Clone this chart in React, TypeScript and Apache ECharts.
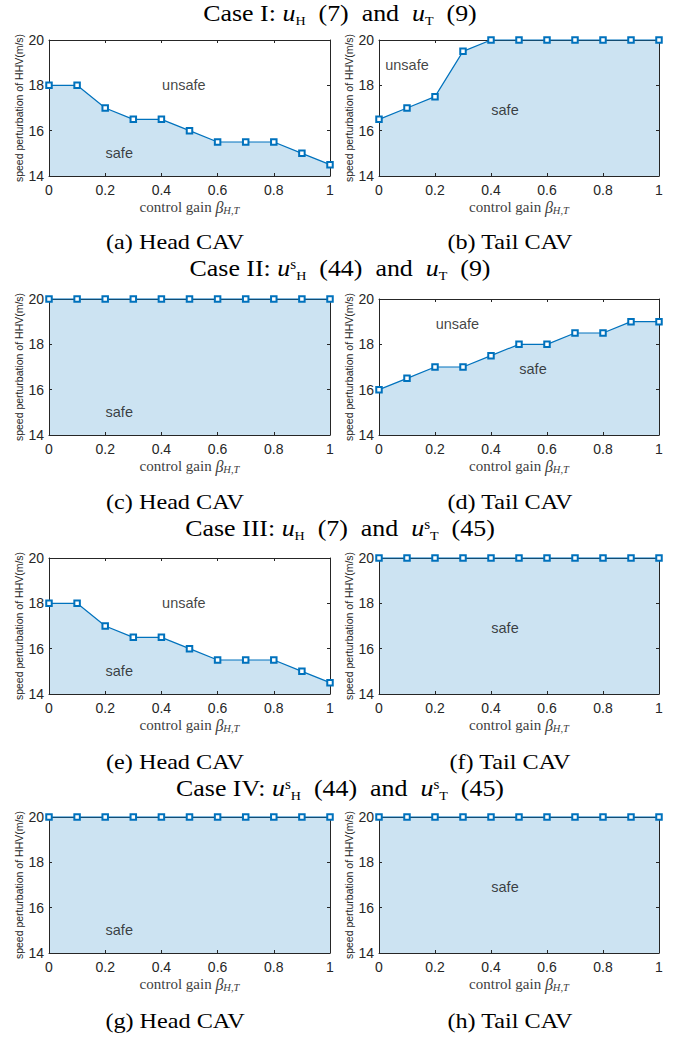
import React, { useEffect, useRef } from "react";
import * as echarts from "echarts";

const betas = [0, 0.1, 0.2, 0.3, 0.4, 0.5, 0.6, 0.7, 0.8, 0.9, 1];

const headCase1 = [18, 18, 17, 16.5, 16.5, 16, 15.5, 15.5, 15.5, 15, 14.5];
const tailCase1 = [16.5, 17, 17.5, 19.5, 20, 20, 20, 20, 20, 20, 20];
const headCase2 = [20, 20, 20, 20, 20, 20, 20, 20, 20, 20, 20];
const tailCase2 = [16, 16.5, 17, 17, 17.5, 18, 18, 18.5, 18.5, 19, 19];
const headCase3 = [18, 18, 17, 16.5, 16.5, 16, 15.5, 15.5, 15.5, 15, 14.5];
const tailCase3 = [20, 20, 20, 20, 20, 20, 20, 20, 20, 20, 20];
const headCase4 = [20, 20, 20, 20, 20, 20, 20, 20, 20, 20, 20];
const tailCase4 = [20, 20, 20, 20, 20, 20, 20, 20, 20, 20, 20];

const panelValues = [headCase1, tailCase1, headCase2, tailCase2, headCase3, tailCase3, headCase4, tailCase4];

const panelCaptions = [
  "(a) Head CAV", "(b) Tail CAV",
  "(c) Head CAV", "(d) Tail CAV",
  "(e) Head CAV", "(f) Tail CAV",
  "(g) Head CAV", "(h) Tail CAV",
];

const caseTitles = [
  "{n|Case I: }{i|u}{sub|H}{n|  (7)  and  }{i|u}{sub|T}{n|  (9)}",
  "{n|Case II: }{i|u}{sup|s}{sub|H}{n|  (44)  and  }{i|u}{sub|T}{n|  (9)}",
  "{n|Case III: }{i|u}{sub|H}{n|  (7)  and  }{i|u}{sup|s}{sub|T}{n|  (45)}",
  "{n|Case IV: }{i|u}{sup|s}{sub|H}{n|  (44)  and  }{i|u}{sup|s}{sub|T}{n|  (45)}",
];

// annotation labels per panel: [beta, speed, text]
const panelLabels: [number, number, string][][] = [
  [[0.48, 18, "unsafe"], [0.25, 15, "safe"]],
  [[0.1, 18.9, "unsafe"], [0.45, 16.9, "safe"]],
  [[0.25, 15, "safe"]],
  [[0.28, 18.9, "unsafe"], [0.55, 16.9, "safe"]],
  [[0.48, 18, "unsafe"], [0.25, 15, "safe"]],
  [[0.45, 16.9, "safe"]],
  [[0.25, 15, "safe"]],
  [[0.45, 16.9, "safe"]],
];

const yMin = 14;
const yMax = 20;
const yInterval = 2;
const xMin = 0;
const xMax = 1;
const xInterval = 0.2;

const yAxisName = "speed perturbation of HHV(m/s)";
const xAxisName = "{txt|control gain }{beta|β}{low|H,T}";

const SANS = "Liberation Sans";
const SERIF = "Liberation Serif";
const AX = "#262626";
const BLUE = "#0072BD";
const FILL = "#cce3f2";
const XNAME = "#404040";

const rowTops = [40, 299, 558, 817];
const plotH = 136;
const colLefts = [49, 379];
const colWidths = [281, 280];
const captionY = [241, 501, 761, 1020];
const captionX = [175, 510];
const titleY = [13, 268, 528, 788];

export default function App() {
  const ref = useRef<HTMLDivElement>(null);
  useEffect(() => {
    document.body.style.margin = "0";
    if (!ref.current) return;
    const chart = echarts.init(ref.current, null, { renderer: "svg" });

    const grids: any[] = [];
    const xAxes: any[] = [];
    const yAxes: any[] = [];
    const series: any[] = [];
    const graphics: any[] = [];

    for (let k = 0; k < 8; k++) {
      const row = Math.floor(k / 2);
      const col = k % 2;
      grids.push({
        left: colLefts[col],
        top: rowTops[row],
        width: colWidths[col],
        height: plotH,
        containLabel: false,
      });
      const baseX = {
        type: "value",
        gridIndex: k,
        min: xMin,
        max: xMax,
        interval: xInterval,
        splitLine: { show: false },
        axisLine: { show: true, onZero: false, lineStyle: { color: AX, width: 1 } },
        axisTick: { show: true, inside: true, length: 3, lineStyle: { color: AX } },
        z: 5,
      };
      xAxes.push({
        ...baseX,
        position: "bottom",
        axisLabel: { show: true, color: AX, fontSize: 14, fontFamily: SANS, margin: 7 },
      });
      xAxes.push({ ...baseX, position: "top", axisLabel: { show: false } });
      const baseY = {
        type: "value",
        gridIndex: k,
        min: yMin,
        max: yMax,
        interval: yInterval,
        splitLine: { show: false },
        axisLine: { show: true, onZero: false, lineStyle: { color: AX, width: 1 } },
        axisTick: { show: true, inside: true, length: 3, lineStyle: { color: AX } },
        z: 5,
      };
      yAxes.push({
        ...baseY,
        position: "left",
        axisLabel: { show: true, color: AX, fontSize: 14, fontFamily: SANS, margin: 5 },
        name: yAxisName,
        nameLocation: "middle",
        nameRotate: 90,
        nameGap: 24,
        nameTextStyle: { color: AX, fontFamily: SANS, fontSize: 10.5 },
      });
      yAxes.push({ ...baseY, position: "right", axisLabel: { show: false } });

      const pts = betas.map((b, i) => [b, panelValues[k][i]]);
      series.push({
        type: "line",
        xAxisIndex: 2 * k,
        yAxisIndex: 2 * k,
        data: pts,
        symbol: "none",
        lineStyle: { width: 0 },
        areaStyle: { color: FILL, opacity: 1, origin: "start" },
        z: 1,
        silent: true,
      });
      series.push({
        type: "line",
        xAxisIndex: 2 * k,
        yAxisIndex: 2 * k,
        data: pts,
        symbol: "emptyRect",
        symbolSize: 5.5,
        showAllSymbol: true,
        clip: false,
        lineStyle: { width: 1.2, color: BLUE },
        itemStyle: { color: BLUE, borderWidth: 1 },
        z: 10,
      });
      series.push({
        type: "scatter",
        xAxisIndex: 2 * k,
        yAxisIndex: 2 * k,
        data: panelLabels[k].map((a) => ({ value: [a[0], a[1]], name: a[2] })),
        symbolSize: 1,
        itemStyle: { color: "transparent" },
        label: {
          show: true,
          position: "inside",
          formatter: "{b}",
          color: "#111",
          fontFamily: SANS,
          fontSize: 14.5,
        },
        z: 11,
        silent: true,
      });

      // x-axis title (serif, with math)
      graphics.push({
        type: "text",
        x: colLefts[col] + colWidths[col] / 2,
        y: rowTops[row] + plotH + 31,
        style: {
          text: xAxisName,
          align: "center",
          verticalAlign: "middle",
          font: `15px ${SERIF}`,
          rich: {
            txt: { font: `15px ${SERIF}`, fontFamily: SERIF, fontSize: 15, fill: XNAME, lineHeight: 18 },
            beta: { font: `italic 16px ${SERIF}`, fontFamily: SERIF, fontStyle: "italic", fontSize: 16, fill: XNAME, lineHeight: 18 },
            low: { font: `italic 10.5px ${SERIF}`, fontFamily: SERIF, fontStyle: "italic", fontSize: 10.5, fill: XNAME, verticalAlign: "bottom", lineHeight: 11 },
          },
        },
      });

      graphics.push({
        type: "text",
        x: captionX[col],
        y: captionY[row],
        scaleX: 1.1,
        style: {
          text: panelCaptions[k],
          fill: "#000",
          font: `22px ${SERIF}`,
          align: "center",
          verticalAlign: "middle",
        },
      });
    }

    for (let r = 0; r < 4; r++) {
      graphics.push({
        type: "text",
        x: 340,
        y: titleY[r],
        scaleX: 1.08,
        style: {
          text: caseTitles[r],
          fill: "#000",
          align: "center",
          verticalAlign: "middle",
          rich: {
            n: { fontFamily: SERIF, fontSize: 24, lineHeight: 28, fill: "#000" },
            i: { fontFamily: SERIF, fontStyle: "italic", fontSize: 24, lineHeight: 28, fill: "#000" },
            sub: { fontFamily: SERIF, fontSize: 13, verticalAlign: "bottom", lineHeight: 13, fill: "#000" },
            sup: { fontFamily: SERIF, fontSize: 14, verticalAlign: "top", lineHeight: 14, padding: [3, 0, 0, 0], fill: "#000" },
          },
        },
      });
    }

    chart.setOption({
      animation: false,
      backgroundColor: "#fff",
      grid: grids,
      xAxis: xAxes,
      yAxis: yAxes,
      series,
      graphic: graphics,
    });
    return () => chart.dispose();
  }, []);
  return <div ref={ref} style={{ width: 683, height: 1040 }} />;
}
